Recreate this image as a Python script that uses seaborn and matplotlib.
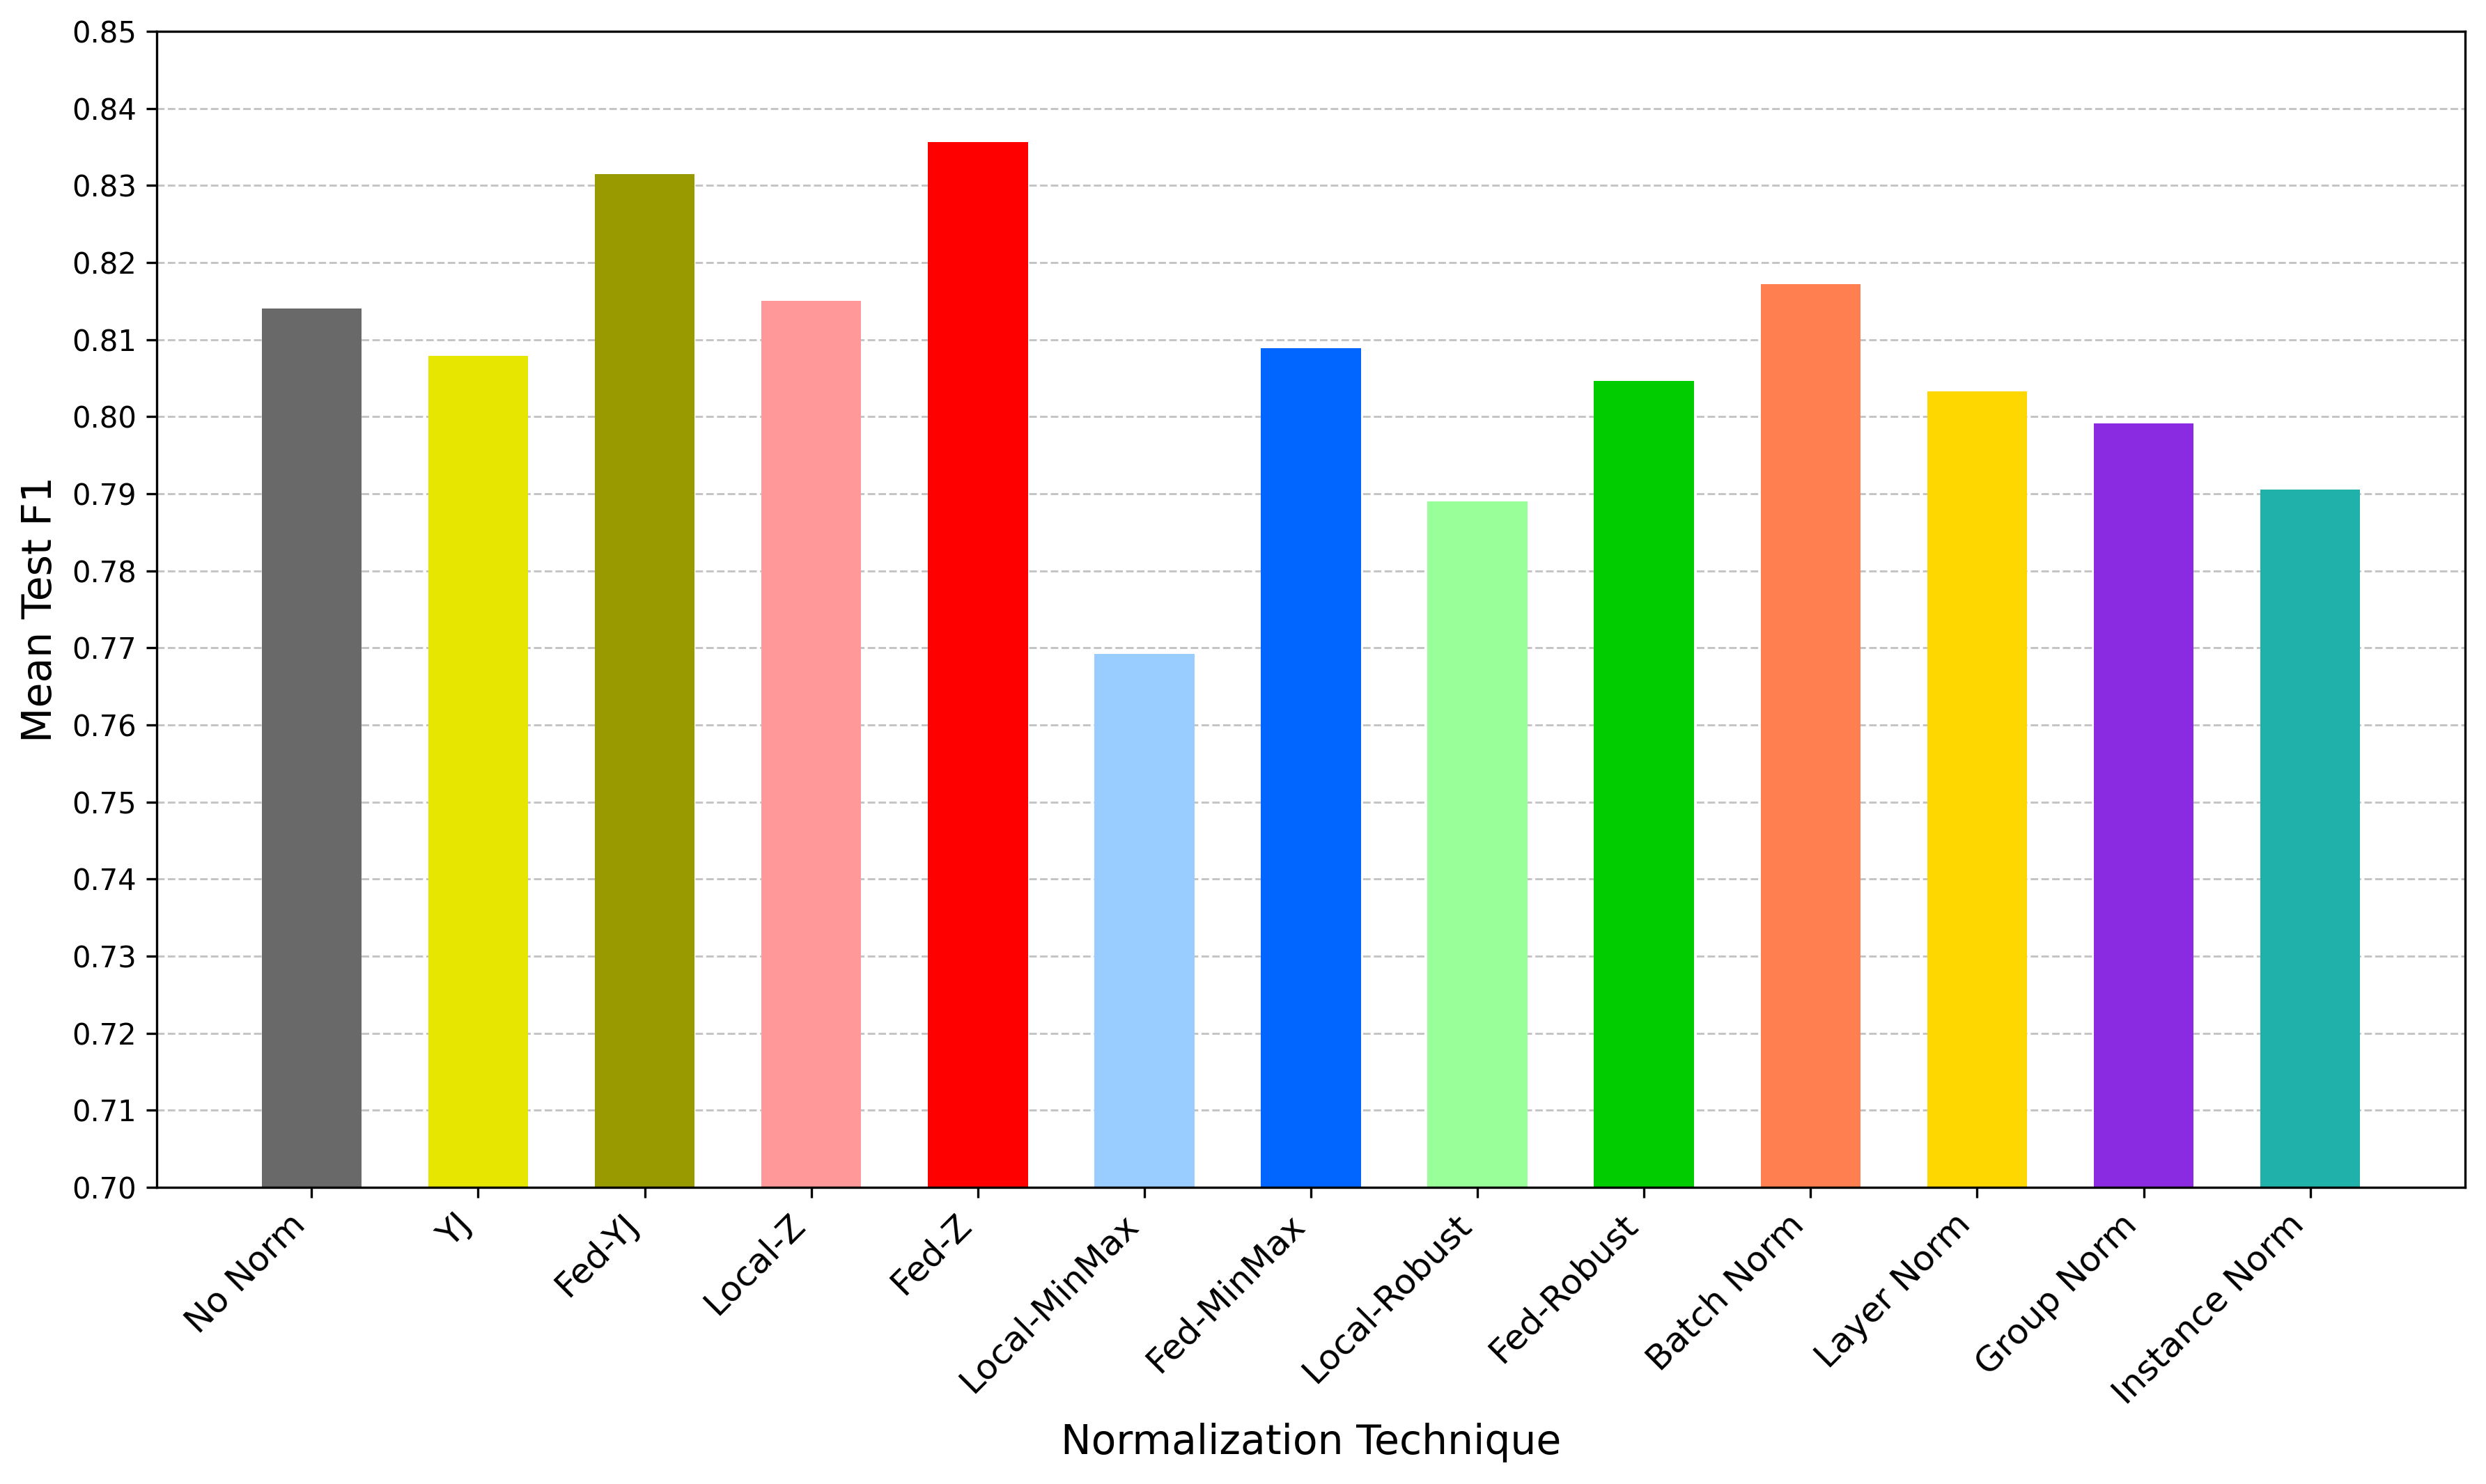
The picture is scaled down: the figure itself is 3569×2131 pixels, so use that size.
import numpy as np
import matplotlib.pyplot as plt
import seaborn as sns
import pandas as pd

techniques = ['No Norm', 'YJ', 'Fed-YJ', 'Local-Z', 'Fed-Z', 'Local-MinMax',
              'Fed-MinMax', 'Local-Robust', 'Fed-Robust', 'Batch Norm',
              'Layer Norm', 'Group Norm', 'Instance Norm']
mean_f1 = [0.8140, 0.8079, 0.8315, 0.8150, 0.8356, 0.7692,
           0.8089, 0.7890, 0.8046, 0.8172, 0.8033, 0.7991, 0.7905]
bar_colors = ['#696969', '#E6E600', '#999900', '#FF9999', '#FF0000', '#99CCFF',
              '#0066FF', '#99FF99', '#00CC00', '#FF7F50', '#FFD700', '#8A2BE2',
              '#20B2AA']

df = pd.DataFrame({'technique': techniques, 'f1': mean_f1})

fig = plt.figure(figsize=(3569 / 300, 2131 / 300), dpi=300)
ax = fig.add_axes([225 / 3569, 1 - 1705 / 2131, (3539 - 225) / 3569, (1705 - 45) / 2131])

# one colour per technique
sns.barplot(data=df, x='technique', y='f1', hue='technique',
            palette=bar_colors, legend=False, width=0.6, saturation=1, ax=ax)

ax.set_ylim(0.70, 0.85)
ax.set_yticks(np.arange(0.70, 0.8501, 0.01))
ax.set_yticklabels([f'{v:.2f}' for v in np.arange(0.70, 0.8501, 0.01)], fontsize=10)
ax.set_xlim(-0.93, len(techniques) - 1 + 0.93)
ax.set_xticks(range(len(techniques)))
ax.set_xticklabels(techniques, rotation=45, ha='right', fontsize=12)

ax.yaxis.grid(True, linestyle='--', color='#c4c4c4', linewidth=0.7)
ax.set_axisbelow(True)

ax.set_xlabel('Normalization Technique', fontsize=14)
ax.set_ylabel('Mean Test F1', fontsize=14)

plt.savefig('out.png', dpi=300)
